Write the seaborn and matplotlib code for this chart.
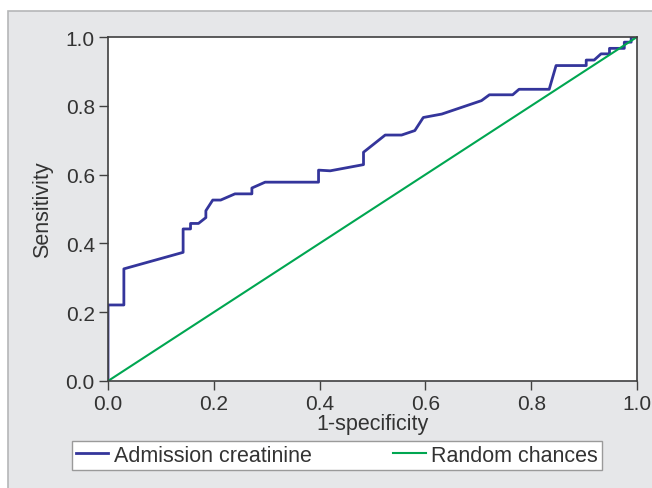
import pandas as pd
import matplotlib.pyplot as plt
import matplotlib.patches as mpatches
import seaborn as sns

# ROC curve points
fpr = [0.0, 0.0, 0.030, 0.030, 0.142, 0.142, 0.156, 0.156, 0.171, 0.185, 0.185,
       0.198, 0.213, 0.240, 0.272, 0.272, 0.297, 0.398, 0.398, 0.420, 0.483,
       0.483, 0.524, 0.555, 0.580, 0.596, 0.631, 0.706, 0.721, 0.765, 0.777,
       0.834, 0.847, 0.904, 0.904, 0.919, 0.932, 0.948, 0.948, 0.976, 0.976,
       0.989, 0.989, 1.0]
tpr = [0.0, 0.221, 0.221, 0.326, 0.374, 0.442, 0.442, 0.458, 0.458, 0.475, 0.495,
       0.526, 0.526, 0.544, 0.544, 0.561, 0.578, 0.578, 0.613, 0.611, 0.629,
       0.665, 0.715, 0.715, 0.728, 0.766, 0.776, 0.815, 0.832, 0.832, 0.848,
       0.848, 0.917, 0.917, 0.933, 0.933, 0.951, 0.951, 0.967, 0.967, 0.985,
       0.985, 1.0, 1.0]
diag = [0.0, 1.0]
ticks = [0.0, 0.2, 0.4, 0.6, 0.8, 1.0]
tick_labels = ["0.0", "0.2", "0.4", "0.6", "0.8", "1.0"]

roc = pd.DataFrame({"fpr": fpr, "tpr": tpr})
rnd = pd.DataFrame({"fpr": diag, "tpr": diag})

bg = "#e6e7e9"
txt = "#333333"
plt.rcParams["font.family"] = ["Liberation Sans", "DejaVu Sans"]

fig = plt.figure(figsize=(6.52, 4.89), dpi=100)
fig.patch.set_facecolor("white")
# grey panel with a thin border, like the journal figure
panel = mpatches.Rectangle((8 / 652, -0.01), 1.1, 1 - 12 / 489 + 0.01,
                           transform=fig.transFigure, facecolor=bg,
                           edgecolor="#b5b6b8", linewidth=1.2, zorder=-10)
fig.add_artist(panel)

ax = fig.add_axes([108 / 652, 107 / 489, 529 / 652, 344 / 489])
ax.set_facecolor("white")

sns.lineplot(data=roc, x="fpr", y="tpr", sort=False, estimator=None,
             color="#34359b", linewidth=2.0, label="Admission creatinine", ax=ax)
sns.lineplot(data=rnd, x="fpr", y="tpr", sort=False, estimator=None,
             color="#00a651", linewidth=1.5, label="Random chances", ax=ax)

ax.set_xlim(0, 1)
ax.set_ylim(0, 1)
ax.set_xticks(ticks)
ax.set_yticks(ticks)
ax.set_xticklabels(tick_labels)
ax.set_yticklabels(tick_labels)
ax.tick_params(direction="out", length=6.5, width=1, color="#404040",
               labelsize=15, labelcolor=txt, pad=3)
for s in ax.spines.values():
    s.set_color("#404040")
    s.set_linewidth(1.2)
ax.set_xlabel("1-specificity", fontsize=15.5, color=txt, labelpad=0)
ax.set_ylabel("Sensitivity", fontsize=15.5, color=txt, labelpad=9)

leg = ax.legend(loc="center", bbox_to_anchor=(337 / 652, 1 - 456.5 / 489),
                bbox_transform=fig.transFigure, ncol=2, fontsize=15.5,
                frameon=True, fancybox=False, framealpha=1,
                handlelength=1.5, handletextpad=0.25, columnspacing=3.8,
                borderpad=0.2, borderaxespad=0)
leg.get_frame().set_edgecolor("#9a9a9a")
leg.get_frame().set_linewidth(1)
for t in leg.get_texts():
    t.set_color(txt)

plt.savefig("out.png", dpi=100, facecolor=fig.get_facecolor())
